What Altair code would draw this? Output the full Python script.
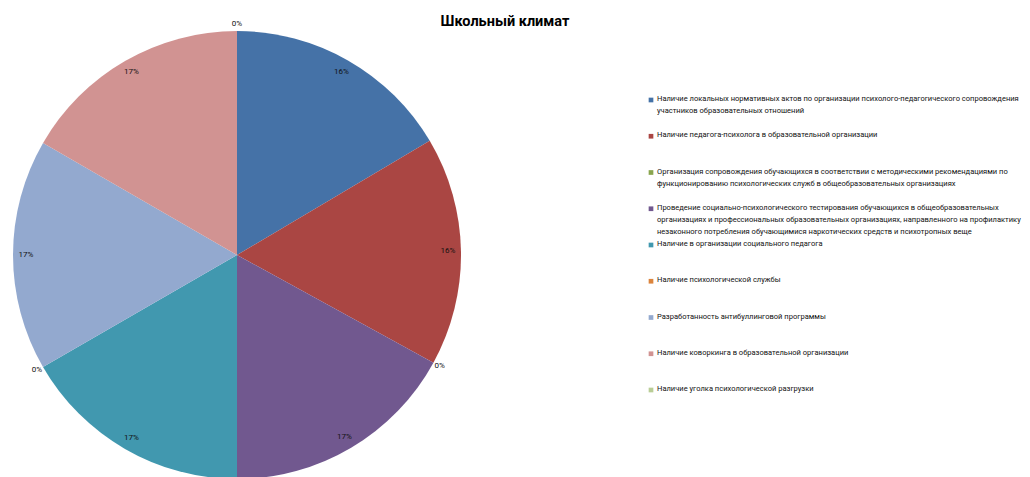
import altair as alt
import pandas as pd

categories = [
    "Наличие локальных нормативных актов по организации психолого-педагогического сопровождения\nучастников образовательных отношений",
    "Наличие  педагога-психолога в образовательной организации",
    "Организация сопровождения обучающихся в соответствии с методическими рекомендациями по\nфункционированию психологических служб в общеобразовательных организациях",
    "Проведение социально-психологического тестирования обучающихся в общеобразовательных\nорганизациях и профессиональных образовательных организациях, направленного на профилактику\nнезаконного потребления обучающимися наркотических средств и психотропных веще",
    "Наличие в организации социального педагога",
    "Наличие психологической службы",
    "Разработанность антибуллинговой программы",
    "Наличие коворкинга в образовательной организации",
    "Наличие уголка психологической разгрузки",
]
values = [16.49, 16.49, 0, 17.02, 16.67, 0, 16.67, 16.66, 0]
colors = ["#4572A7", "#AA4643", "#89A54E", "#71588F", "#4198AF",
          "#DB843D", "#93A9CF", "#D19392", "#B9CD96"]

df = pd.DataFrame({"cat": categories, "value": values, "idx": list(range(len(categories)))})

FONT = "Roboto"
color = alt.Color("cat:N", scale=alt.Scale(domain=categories, range=colors), legend=None)

base = alt.Chart(df).transform_joinaggregate(total="sum(value)").transform_calculate(
    pct="datum.value / datum.total"
)

pie = base.mark_arc(radius=224).encode(
    theta=alt.Theta("value:Q", stack=True),
    order=alt.Order("idx:Q"),
    color=color,
    x=alt.value(224),
    y=alt.value(224),
)

lab_in = base.transform_filter("datum.value > 0").mark_text(
    radius=211, font=FONT, fontSize=8, color="#111111"
).encode(
    theta=alt.Theta("value:Q", stack=True),
    order=alt.Order("idx:Q"),
    text=alt.Text("pct:Q", format=".0%"),
    x=alt.value(224),
    y=alt.value(224),
)

lab_out = base.mark_text(
    radius=231, font=FONT, fontSize=8, color="#111111"
).encode(
    theta=alt.Theta("value:Q", stack=True),
    order=alt.Order("idx:Q"),
    text=alt.Text("pct:Q", format=".0%"),
    opacity=alt.condition("datum.value == 0", alt.value(1), alt.value(0)),
    x=alt.value(224),
    y=alt.value(224),
)

yscale = alt.Scale(type="point", domain=list(range(len(categories))), range=[69, 359], padding=0)

leg_sym = alt.Chart(df).mark_square(size=22, opacity=1).encode(
    x=alt.value(638),
    y=alt.Y("idx:O", scale=yscale, axis=None),
    color=color,
)

leg_txt = alt.Chart(df).mark_text(
    align="left", baseline="top", dy=-5, font=FONT, fontSize=7.55,
    lineBreak="\n", lineHeight=12, color="#111111"
).encode(
    x=alt.value(644),
    y=alt.Y("idx:O", scale=yscale, axis=None),
    text="cat:N",
)

chart = alt.layer(pie, lab_in, lab_out, leg_sym, leg_txt).properties(
    width=1004,
    height=448,
    title=alt.TitleParams("Школьный климат", font=FONT, fontSize=14.5, fontWeight="bold",
                          color="#000000", offset=3, dx=-10, dy=12),
    autosize=alt.AutoSizeParams(type="none"),
    padding={"top": 23, "left": 5, "right": 5, "bottom": 5},
).configure(background="white", view=alt.ViewConfig(stroke="transparent", strokeWidth=0))

chart.save("out.html", embed_options={"renderer": "svg", "actions": False})
